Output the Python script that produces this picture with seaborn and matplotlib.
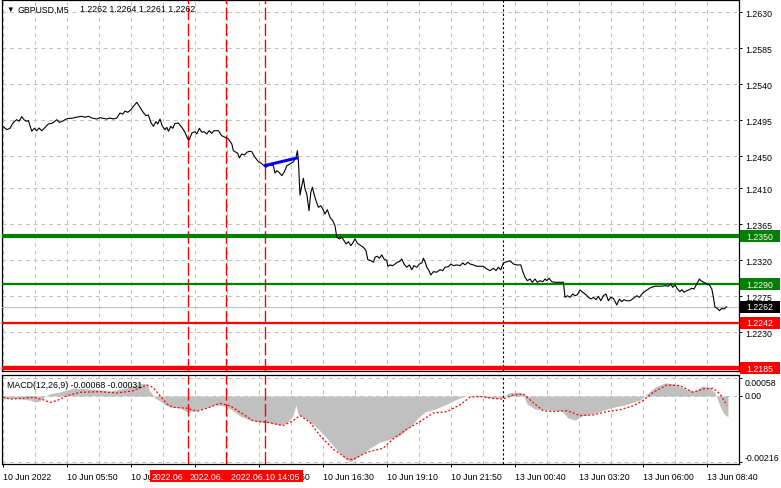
import numpy as np
import pandas as pd
import matplotlib
matplotlib.use("Agg")
import matplotlib.pyplot as plt
import seaborn as sns
from matplotlib.patches import Rectangle
from matplotlib.transforms import blended_transform_factory as btf

# ---------------- data ----------------
# x = bar number (M5 bars, 0 = "10 Jun 2022" tick)
price_bar = [0, 1.9, 3.5, 5.2, 6.9, 8, 9.4, 10.5, 11.5, 12.7,
             14.4, 15.7, 16.9, 18, 19.4, 22.7, 24.4, 25.7, 26.9, 28.2,
             29.9, 31, 32.7, 34.4, 36.5, 39.4, 41, 42.7, 44.4, 46.9,
             48.5, 50.2, 51.9, 53.5, 55.2, 56.9, 58.5, 59.9, 61, 62.4,
             64, 65.2, 66.9, 68.5, 69.9, 71.4, 72.7, 73.9, 75.2, 76.5,
             77.4, 78.5, 79.7, 81, 81.9, 82.7, 83.9, 84.9, 86, 87.7,
             89.4, 91, 92.4, 93.2, 94.4, 96, 96.9, 98.2, 99.4, 100.5,
             101.9, 103, 104.4, 105.5, 107.7, 109.4, 111, 112.7, 114.4, 115.2,
             116.5, 117.4, 118.2, 119.4, 120.7, 121.9, 123.2, 124.4, 126, 127.7,
             128.9, 130.2, 131.4, 132.7, 133.9, 135.2, 136, 136.9, 138, 139.4,
             140.7, 141.9, 143.5, 145.2, 146.5, 147.2, 147.7, 148.2, 148.5, 149.4,
             150.2, 151, 151.9, 153, 153.9, 154.7, 155.5, 156.5, 157.7, 158.9,
             159.9, 161, 162.2, 163.5, 164.9, 166, 166.9, 168.2, 169.4, 170.5,
             171.5, 172.7, 173.9, 174.9, 176, 177.2, 178.5, 180.2, 181.5, 182.4,
             183.9, 185.2, 186, 187.2, 188.2, 189.4, 190.5, 191.9, 192.4, 193.5,
             194.9, 196, 197.2, 198.2, 199.4, 200.5, 201.9, 203.2, 204.4, 205.5,
             206.9, 208.2, 209.4, 210.2, 211, 211.9, 213, 213.9, 215.2, 216.9,
             218.5, 219.9, 221, 222.7, 223.9, 225.2, 226.9, 228.5, 229.9, 231,
             232.4, 233.5, 235.2, 236.9, 238.5, 240.2, 241.9, 243.5, 245.2, 246.5,
             247.7, 248.9, 250.2, 251.9, 253.5, 255.2, 256.9, 258.9, 259.9, 261,
             262.2, 263.5, 264.7, 266, 267.2, 268.5, 269.9, 271, 271.9, 273,
             274.4, 276, 278.5, 280.2, 281, 282.2, 283.5, 284.9, 286, 287.2,
             288.5, 289.9, 291.5, 292.7, 294, 295.2, 296.5, 297.7, 298.9, 300.2,
             301.5, 302.7, 303.9, 305.2, 306.9, 308.2, 309.4, 310.5, 311.9, 313.5,
             315.2, 316.9, 318.2, 319.9, 321.5, 323.2, 324.4, 326, 327.7, 329.4,
             331, 332.7, 333.9, 334.9, 336, 337.2, 338.5, 339.4, 340.5, 341.9,
             343.2, 344.4, 345.5, 346.9, 348.2, 348.9, 349.9, 351, 351.9, 353.2,
             354.4, 355.2, 356, 357.2, 358.2, 359.4, 360.5, 361.9]
price_close = [1.24875, 1.24833, 1.24850, 1.24925, 1.24958, 1.24938, 1.24995, 1.24958, 1.24938, 1.24945,
               1.24813, 1.24850, 1.24820, 1.24854, 1.24820, 1.24904, 1.24912, 1.24933, 1.24958, 1.24925,
               1.24941, 1.24958, 1.24975, 1.24975, 1.24988, 1.25000, 1.24988, 1.25000, 1.24979, 1.24966,
               1.24983, 1.24975, 1.24966, 1.24979, 1.24966, 1.24979, 1.25041, 1.25028, 1.25066, 1.25050,
               1.25083, 1.25125, 1.25175, 1.25113, 1.25057, 1.25008, 1.25016, 1.24925, 1.24875, 1.24933,
               1.24904, 1.24966, 1.24875, 1.24833, 1.24862, 1.24813, 1.24875, 1.24850, 1.24912, 1.24916,
               1.24862, 1.24800, 1.24716, 1.24708, 1.24791, 1.24808, 1.24779, 1.24850, 1.24800, 1.24808,
               1.24779, 1.24820, 1.24787, 1.24820, 1.24820, 1.24757, 1.24737, 1.24716, 1.24654, 1.24570,
               1.24550, 1.24538, 1.24479, 1.24529, 1.24516, 1.24550, 1.24563, 1.24558, 1.24487, 1.24432,
               1.24416, 1.24391, 1.24362, 1.24383, 1.24391, 1.24383, 1.24291, 1.24320, 1.24300, 1.24258,
               1.24307, 1.24383, 1.24404, 1.24432, 1.24487, 1.24570, 1.24446, 1.24175, 1.24016, 1.24132,
               1.24225, 1.24091, 1.24028, 1.23819, 1.24050, 1.24113, 1.24028, 1.23945, 1.23862, 1.23882,
               1.23841, 1.23779, 1.23832, 1.23737, 1.23694, 1.23632, 1.23488, 1.23467, 1.23488, 1.23446,
               1.23404, 1.23433, 1.23383, 1.23417, 1.23467, 1.23413, 1.23391, 1.23362, 1.23321, 1.23208,
               1.23196, 1.23176, 1.23239, 1.23250, 1.23225, 1.23267, 1.23217, 1.23196, 1.23125, 1.23142,
               1.23133, 1.23154, 1.23176, 1.23183, 1.23217, 1.23154, 1.23113, 1.23142, 1.23082, 1.23133,
               1.23113, 1.23154, 1.23167, 1.23226, 1.23183, 1.23113, 1.23071, 1.23017, 1.23058, 1.23051,
               1.23082, 1.23071, 1.23113, 1.23120, 1.23154, 1.23133, 1.23142, 1.23133, 1.23167, 1.23142,
               1.23176, 1.23154, 1.23142, 1.23125, 1.23125, 1.23125, 1.23091, 1.23071, 1.23100, 1.23071,
               1.23113, 1.23082, 1.23167, 1.23183, 1.23192, 1.23154, 1.23142, 1.23142, 1.23058, 1.22988,
               1.22945, 1.22966, 1.22925, 1.22966, 1.22925, 1.22945, 1.22932, 1.22966, 1.22945, 1.22975,
               1.22932, 1.22925, 1.22925, 1.22925, 1.22737, 1.22757, 1.22737, 1.22779, 1.22757, 1.22770,
               1.22829, 1.22800, 1.22770, 1.22737, 1.22716, 1.22737, 1.22707, 1.22750, 1.22694, 1.22757,
               1.22779, 1.22694, 1.22737, 1.22724, 1.22641, 1.22716, 1.22683, 1.22707, 1.22694, 1.22694,
               1.22724, 1.22757, 1.22737, 1.22791, 1.22820, 1.22850, 1.22863, 1.22876, 1.22876, 1.22876,
               1.22883, 1.22876, 1.22904, 1.22863, 1.22892, 1.22842, 1.22808, 1.22833, 1.22800, 1.22820,
               1.22833, 1.22850, 1.22842, 1.22904, 1.22966, 1.22945, 1.22932, 1.22917, 1.22904, 1.22892,
               1.22842, 1.22737, 1.22612, 1.22600, 1.22570, 1.22600, 1.22591, 1.22620]

hist_bar = [-0.5, 3.5, 8.5, 13.5, 16, 18.5, 21, 23.5, 28.5, 32,
            36, 43.5, 48.5, 53.5, 58.5, 63.5, 68.5, 72, 73.5, 76,
            78.5, 81, 83.5, 88.5, 92, 96, 101, 106, 111, 114.5,
            118.5, 123.5, 128.5, 133.5, 138.5, 142, 145, 146.5, 147.5, 151,
            156, 161, 166, 171, 173.5, 176, 179.5, 183.5, 188.5, 193.5,
            198.5, 203.5, 207.5, 211, 216, 221, 226, 231, 238.5, 246,
            250, 252.5, 257.5, 260, 262, 266, 273.5, 279.5, 282.5, 286,
            289.5, 296, 303.5, 311, 318.5, 322, 326, 331, 336, 341,
            346, 349.5, 353.5, 356, 358.5, 360.5, 362.5]
hist_val = [-0.00010, -0.00007, -0.00010, -0.00013, -0.00020, -0.00016, 0.0, 0.00007, 0.00013, 0.00020,
            0.00026, 0.00023, 0.00020, 0.00016, 0.00023, 0.00029, 0.00043, 0.00039, 0.00016, -0.00007,
            -0.00016, -0.00029, -0.00036, -0.00039, -0.00052, -0.00049, -0.00039, -0.00029, -0.00033, -0.00046,
            -0.00065, -0.00079, -0.00085, -0.00088, -0.00095, -0.00088, -0.00065, -0.00029, -0.00059, -0.00072,
            -0.00098, -0.00131, -0.00170, -0.00203, -0.00216, -0.00206, -0.00190, -0.00170, -0.00151, -0.00141,
            -0.00128, -0.00101, -0.00072, -0.00052, -0.00043, -0.00029, -0.00013, 0.0, -0.00003, -0.00007,
            -0.00007, 0.00010, 0.00013, 0.00007, -0.00026, -0.00043, -0.00046, -0.00049, -0.00072, -0.00079,
            -0.00065, -0.00056, -0.00039, -0.00029, -0.00013, 0.00007, 0.00029, 0.00043, 0.00039, 0.00023,
            0.00016, 0.00033, 0.00029, 0.00010, -0.00033, -0.00059, -0.00068]

signal_bar = [0, 3.5, 8.5, 15, 20, 23.5, 27, 32, 38.5, 48.5,
              57, 65, 72, 75, 78.5, 82, 85, 92, 97, 102,
              108.5, 113.5, 118.5, 125, 132, 140, 145, 148.5, 153.5, 158.5,
              165, 172, 175, 182, 190, 195, 202, 208.5, 215, 222,
              228.5, 233.5, 238.5, 245, 250, 255, 260, 265, 270, 275,
              282, 288.5, 295, 302, 308.5, 315, 320, 325, 332, 338.5,
              345, 350, 355, 358.5, 362]
signal_val = [-0.00004, -0.00010, -0.00008, -0.00004, -0.00012, -0.00021, -0.00015, 0.00001, 0.00012, 0.00014,
              0.00010, 0.00017, 0.00036, 0.00028, 0.00001, -0.00026, -0.00037, -0.00040, -0.00050, -0.00040,
              -0.00024, -0.00032, -0.00053, -0.00081, -0.00086, -0.00097, -0.00081, -0.00064, -0.00086, -0.00130,
              -0.00173, -0.00206, -0.00208, -0.00184, -0.00171, -0.00141, -0.00108, -0.00084, -0.00056, -0.00051,
              -0.00029, -0.00004, -0.00001, -0.00008, -0.00010, 0.00003, 0.00007, -0.00021, -0.00048, -0.00051,
              -0.00048, -0.00064, -0.00062, -0.00051, -0.00045, -0.00032, -0.00015, 0.00012, 0.00036, 0.00034,
              0.00012, 0.00023, 0.00025, 0.00007, -0.00031]

price_ticks = [1.2630, 1.2585, 1.2540, 1.2495, 1.2450, 1.2410, 1.2365, 1.2320, 1.2275, 1.2230]
macd_ticks = [0.00058, 0.0, -0.00216]
macd_tick_labels = ["0.00058", "0.00", "-0.00216"]
time_tick_bars = [0, 32, 64, 96, 128, 160, 192, 224, 256, 288, 320, 352]
time_tick_labels = ["10 Jun 2022", "10 Jun 05:50", "10 Jun 08:30", "10 Jun 11:10",
                    "10 Jun 13:50", "10 Jun 16:30", "10 Jun 19:10", "10 Jun 21:50",
                    "13 Jun 00:40", "13 Jun 03:20", "13 Jun 06:00", "13 Jun 08:40"]
grid_bars = list(range(0, 368, 16))

level_prices = [1.2350, 1.2290, 1.2262, 1.2242, 1.2185]
level_labels = ["1.2350", "1.2290", "1.2262", "1.2242", "1.2185"]
level_colors = ["#008000", "#008000", "#000000", "#ff0000", "#ff0000"]
level_line_colors = ["#008000", "#008000", "#c0c0c0", "#ff0000", "#ff0000"]
level_widths = [3.0, 1.6, 0.8, 1.6, 3.2]

event_bars = [92.5, 111.5, 131]
# visible part of each event label (the later labels cover the earlier ones)
event_labels = ["2022.06", "2022.06.", "2022.06.10 14:05"]
week_sep_bar = 250

trend_bar = [131, 147]
trend_price = [1.24385, 1.24479]

title_symbol = "GBPUSD,M5"
title_ohlc = "1.2262 1.2264 1.2261 1.2262"
macd_title = "MACD(12,26,9) -0.00068 -0.00031"

# ---------------- style ----------------
sns.set_theme(style="white")
plt.rcParams['font.family'] = ['Liberation Sans', 'DejaVu Sans']
FS = 6.3
GRID = dict(color="#c0c0c0", linewidth=0.7, linestyle=(0, (4, 4)))

W, H = 781, 489
fig = plt.figure(figsize=(W / 100, H / 100), dpi=100)
fig.patch.set_facecolor("white")


def fx(x):
    return x / W


def fy(y):
    return 1 - y / H


ax = fig.add_axes([fx(2), fy(372), (739 - 2) / W, (372 - 1) / H])
ax2 = fig.add_axes([fx(2), fy(465), (739 - 2) / W, (465 - 376) / H])

for a in (ax, ax2):
    a.set_facecolor("white")
    a.set_xlim(-0.5, 368)
    for s in a.spines.values():
        s.set_color("black")
        s.set_linewidth(0.9)
        s.set_visible(True)
    a.set_xticks(grid_bars)
    a.grid(True, axis="x", **GRID)
    a.set_axisbelow(True)

ax.set_ylim(1.21816, 1.26454)
ax2.set_ylim(-0.0022255, 0.00068727)

# main panel y axis (right side)
ax.yaxis.tick_right()
ax.set_yticks(price_ticks)
ax.set_yticklabels([f"{v:.4f}" for v in price_ticks])
ax.grid(True, axis="y", **GRID)
ax.tick_params(axis="y", which="both", right=True, left=False, length=2.2, width=0.7,
               colors="black", labelsize=FS, pad=2.5)
ax.tick_params(axis="x", bottom=False, labelbottom=False)

# MACD panel axes
ax2.yaxis.tick_right()
ax2.set_yticks(macd_ticks)
ax2.set_yticklabels([])
ax2.grid(True, axis="y", **GRID)
ax2.tick_params(axis="y", right=True, left=False, length=2.2, width=0.7, colors="black")
ax2.set_xticks(time_tick_bars, minor=False)
ax2.set_xticklabels(time_tick_labels)
ax2.set_xticks([b for b in grid_bars if b not in time_tick_bars], minor=True)
ax2.grid(True, axis="x", which="both", **GRID)
ax2.tick_params(axis="x", which="major", bottom=True, length=2.2, width=0.7,
                colors="black", labelsize=FS, pad=3.3)
ax2.tick_params(axis="x", which="minor", bottom=False)
for lab in ax2.get_xticklabels():
    lab.set_horizontalalignment("left")

ytr = btf(ax2.transAxes, ax2.transData)
for v, lab in zip(macd_ticks, macd_tick_labels):
    va = "top" if v > 0 else ("bottom" if v < 0 else "center")
    ax2.text((745 - 2) / 737, v, lab, transform=ytr, fontsize=FS, va=va, ha="left",
             color="black", clip_on=False)

# ---------------- price panel ----------------
df_price = pd.DataFrame({"bar": price_bar, "close": price_close})
sns.lineplot(data=df_price, x="bar", y="close", ax=ax, color="black", linewidth=0.8,
             estimator=None, sort=False, zorder=5)

for v, c, w in zip(level_prices, level_line_colors, level_widths):
    ax.axhline(v, color=c, linewidth=w, zorder=4)

df_trend = pd.DataFrame({"bar": trend_bar, "price": trend_price})
sns.lineplot(data=df_trend, x="bar", y="price", ax=ax, color="#0000ff", linewidth=2.2,
             estimator=None, sort=False, zorder=6)

for a in (ax, ax2):
    for b in event_bars:
        a.axvline(b, color="#ff0000", linewidth=1.0, linestyle=(0, (9, 2.5)), zorder=3)
    a.axvline(week_sep_bar, color="black", linewidth=0.8, linestyle=(0, (2, 2)), zorder=3)

# right-hand coloured price boxes
rtr = btf(ax.transAxes, ax.transData)
lo, hi = ax.get_ylim()
px_per_unit = (372 - 1) / (hi - lo)
box_h = 12 / px_per_unit
for v, lab, c in zip(level_prices, level_labels, level_colors):
    ax.add_patch(Rectangle(((740 - 2) / 737, v - box_h / 2), 40 / 737, box_h, transform=rtr,
                           facecolor=c, edgecolor="none", clip_on=False, zorder=10))
    ax.text((746 - 2) / 737, v, lab, transform=rtr, fontsize=FS, color="white",
            va="center", ha="left", clip_on=False, zorder=11)

# ---------------- MACD panel ----------------
ax2.fill_between(hist_bar, hist_val, 0, color="#c0c0c0", linewidth=0, zorder=2)
df_sig = pd.DataFrame({"bar": signal_bar, "signal": signal_val})
sns.lineplot(data=df_sig, x="bar", y="signal", ax=ax2, color="#ff0000", linewidth=0.9,
             estimator=None, sort=False, zorder=5)
ax2.lines[-1].set_linestyle((0, (1.6, 1.6)))
ax2.set_xlabel("")
ax2.set_ylabel("")
ax.set_xlabel("")
ax.set_ylabel("")

# event labels on the time axis (each box centred on its line, later ones on top)
etr = btf(ax2.transData, fig.transFigure)
half_w = 19
for i, (b, lab) in enumerate(zip(event_bars, event_labels)):
    ax2.add_patch(Rectangle((b - half_w, fy(483)), 2 * half_w, 12 / H, transform=etr,
                            facecolor="#ff0000", edgecolor="none", clip_on=False, zorder=20 + 2 * i))
    last = i == len(event_bars) - 1
    ax2.text(b if last else b - half_w + 1, fy(477.5), lab, transform=etr, fontsize=FS,
             color="white", ha="center" if last else "left", va="center", clip_on=False,
             zorder=21 + 2 * i)

# headers
fig.text(fx(6.5), fy(10), "\u25bc", fontsize=5.5, va="center", ha="left", color="black")
fig.text(fx(18), fy(10), title_symbol, fontsize=FS, va="center", ha="left", color="black")
fig.text(fx(80), fy(10), title_ohlc, fontsize=FS, va="center", ha="left", color="black")
fig.text(fx(7), fy(386), macd_title, fontsize=FS, va="center", ha="left", color="black")

fig.savefig("out.png", dpi=100, facecolor="white")
